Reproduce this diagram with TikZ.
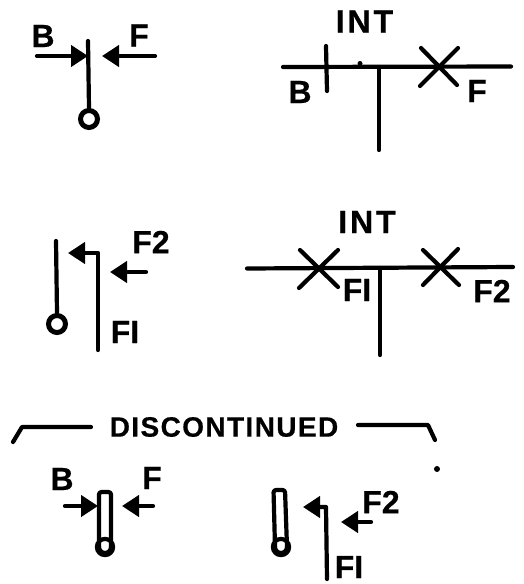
\documentclass[tikz,border=0pt]{standalone}
\usepackage{fontspec}
\setmainfont{Liberation Sans}[BoldFont={Liberation Sans Bold},BoldFeatures={FakeBold=0.5}]
\usetikzlibrary{arrows.meta}
\tikzset{
 ln/.style={line width=4.2pt,line cap=round,line join=round,black},
 arr/.style={ln,-{Triangle[length=17pt,width=21pt]}},
 lbl/.style={font=\fontsize{32}{32}\selectfont\bfseries,inner sep=0pt},
 lblsm/.style={font=\fontsize{28}{28}\selectfont\bfseries,inner sep=0pt},
 ring/.style={circle,draw,line width=5pt,minimum size=17pt,inner sep=0pt,fill=white},
 ringsm/.style={circle,draw,line width=4.2pt,minimum size=16.2pt,inner sep=0pt},
 boxln/.style={line width=4.2pt,line join=round,rounded corners=2.5pt},
}
\begin{document}
\begin{tikzpicture}[x=1pt,y=-1pt]
\useasboundingbox (0,0) rectangle (524,584);
% panel 1
\node[lbl] (b1) at (43,36) {B};
\node[lbl] (f1) at (139,35.5) {F};
\coordinate (a1s) at (37,56); \coordinate (a1e) at (88,56);
\coordinate (a2s) at (155,56); \coordinate (a2e) at (102,56);
\draw[arr] (a1s) -- (a1e);
\draw[arr] (a2s) -- (a2e);
\coordinate (v1t) at (88,41);
\node[ring] (r1) at (89,119) {};
\draw[ln] (v1t) -- (r1.north);
% panel 2
\node[lbl] (int1) at (364.5,21.5) {\addfontfeature{LetterSpace=9}INT};
\coordinate (h1l) at (283,67); \coordinate (h1r) at (511,66.5);
\draw[ln] (h1l) -- (h1r);
\coordinate (t1a) at (326,46); \coordinate (t1b) at (327,91);
\draw[ln] (t1a) -- (t1b);
\node[lbl] (b2) at (300,92) {B};
\coordinate (x1a) at (421,48); \coordinate (x1b) at (457,85);
\coordinate (x1c) at (458,48); \coordinate (x1d) at (420,86);
\draw[ln] (x1a) -- (x1b); \draw[ln] (x1c) -- (x1d);
\node[lbl] (f2) at (477,91) {F};
\coordinate (s1a) at (379,67); \coordinate (s1b) at (379,150);
\draw[ln] (s1a) -- (s1b);
\coordinate (sp) at (360,63.5);
\fill (sp) circle (2.5pt);
% panel 3
\coordinate (v3t) at (56,241);
\node[ring] (r3) at (57,324) {};
\draw[ln] (v3t) -- (r3.north);
\coordinate (p3a) at (98,350); \coordinate (p3b) at (98,253); \coordinate (p3c) at (68,253);
\draw[arr] (p3a) -- (p3b) -- (p3c);
\node[lbl] (f32) at (151,242) {F2};
\coordinate (a3s) at (146,272); \coordinate (a3e) at (110,272);
\draw[arr] (a3s) -- (a3e);
\node[lbl] (f31) at (125,332) {FI};
% panel 4
\node[lbl] (int2) at (367,222) {\addfontfeature{LetterSpace=9}INT};
\coordinate (h2l) at (247,268.5); \coordinate (h2r) at (513,267);
\draw[ln] (h2l) -- (h2r);
\coordinate (x2a) at (300,250); \coordinate (x2b) at (338,287);
\coordinate (x2c) at (338,250); \coordinate (x2d) at (299,288);
\draw[ln] (x2a) -- (x2b); \draw[ln] (x2c) -- (x2d);
\coordinate (x3a) at (423,250); \coordinate (x3b) at (459,285);
\coordinate (x3c) at (458,249); \coordinate (x3d) at (423,285);
\draw[ln] (x3a) -- (x3b); \draw[ln] (x3c) -- (x3d);
\node[lbl] (f41) at (357,290) {FI};
\node[lbl] (f42) at (492,291) {F2};
\coordinate (s2a) at (380,268); \coordinate (s2b) at (380,355);
\draw[ln] (s2a) -- (s2b);
% discontinued
\node[lblsm] (disc) at (224,427) {\addfontfeature{LetterSpace=5}DISCONTINUED};
\coordinate (d1) at (13,442); \coordinate (d2) at (22,427); \coordinate (d3) at (91,427);
\draw[ln] (d1) -- (d2) -- (d3);
\coordinate (d4) at (358,425); \coordinate (d5) at (428,425); \coordinate (d6) at (435,440);
\draw[ln] (d4) -- (d5) -- (d6);
% panel 5
\node[lbl] (b5) at (62,479) {B};
\node[lbl] (f5) at (152,478) {F};
\coordinate (a5s) at (65,506); \coordinate (a5e) at (98,506);
\coordinate (a6s) at (153,506); \coordinate (a6e) at (122,506);
\draw[arr] (a5s) -- (a5e);
\draw[arr] (a6s) -- (a6e);
\node[ringsm] (r5) at (105,547) {};
\draw[boxln] (99,547) -- (99,492) -- (111,492) -- (111,547);
\draw[line width=4.2pt] (111,547) arc[start angle=0,end angle=-180,radius=6pt];
% panel 6
\node[ringsm] (r6) at (281,547) {};
\draw[boxln] (275,547) -- (273.5,490) -- (285,490) -- (287,547);
\draw[line width=4.2pt] (287,547) arc[start angle=0,end angle=-180,radius=6pt];
\coordinate (p6a) at (327,579); \coordinate (p6b) at (326,507); \coordinate (p6c) at (303,507);
\draw[arr] (p6a) -- (p6b) -- (p6c);
\coordinate (a7s) at (371,522); \coordinate (a7e) at (341,522);
\draw[arr] (a7s) -- (a7e);
\node[lbl] (f62) at (381,502) {F2};
\node[lbl] (f61) at (349,567) {FI};
\coordinate (dot) at (437,469);
\fill (dot) circle (3pt);
\end{tikzpicture}
\end{document}
